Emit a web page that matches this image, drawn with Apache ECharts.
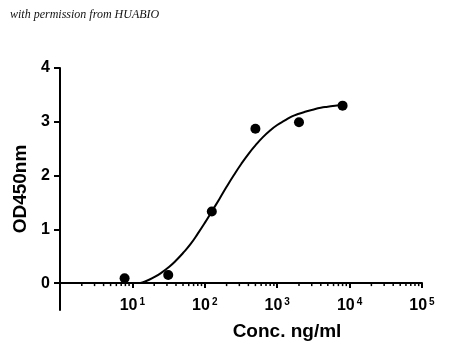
<!DOCTYPE html>
<html>
<head>
<meta charset="utf-8">
<script src="https://cdn.jsdelivr.net/npm/echarts@6/dist/echarts.min.js"></script>
<style>html,body{margin:0;padding:0;background:#fff}#c{width:450px;height:360px}</style>
</head>
<body>
<div id="c"></div>
<script>
// Measured points
var conc = [7.8, 31.25, 125, 500, 2000, 8000];
var od = [0.09, 0.15, 1.33, 2.87, 2.99, 3.30];
// Fitted curve
var curveConc = [12.5, 15, 20, 25, 32, 40, 50, 63, 80, 100, 126, 160, 200, 250, 320, 400, 500, 630, 800, 1000, 1260, 1600, 2000, 2500, 3200, 4000, 5000, 6300, 8000];
var curveOD = [0.0, 0.03, 0.11, 0.19, 0.30, 0.42, 0.56, 0.72, 0.92, 1.12, 1.34, 1.57, 1.79, 2.00, 2.22, 2.40, 2.56, 2.71, 2.84, 2.94, 3.02, 3.10, 3.15, 3.19, 3.23, 3.26, 3.28, 3.30, 3.31];
// Axis ticks
var yTicks = [0, 1, 2, 3, 4];
var decades = [1, 10, 100, 1000, 10000];
var minorMult = [2, 3, 4, 5, 6, 7, 8, 9];
var minorTicks = [];
decades.forEach(function (d) { minorMult.forEach(function (m) { minorTicks.push([d * m, 0]); }); });

var font = 'Liberation Sans';
var chart = echarts.init(document.getElementById('c'), null, {renderer: 'canvas'});
chart.setOption({
  animation: false,
  backgroundColor: '#fff',
  grid: {left: 60, right: 28, top: 68, bottom: 50, containLabel: false},
  xAxis: {
    type: 'log', logBase: 10, min: 1, max: 100000,
    position: 'bottom', offset: -27,
    axisLine: {onZero: false, lineStyle: {color: '#000', width: 2}},
    axisTick: {inside: false, length: 5, lineStyle: {color: '#000', width: 2}},
    splitLine: {show: false},
    axisLabel: {
      margin: 14, color: '#000',
      formatter: function (v) {
        if (v <= 1) return '';
        var e = Math.round(Math.log10(v));
        return '{b|10}{s|' + e + '}';
      },
      rich: {
        b: {fontFamily: font, fontWeight: 'bold', fontSize: 16, color: '#000'},
        s: {fontFamily: font, fontWeight: 'bold', fontSize: 10, color: '#000', verticalAlign: 'bottom', padding: [0, 0, 8, 2]}
      }
    }
  },
  yAxis: {
    type: 'value', min: -0.5, max: 4,
    name: 'OD450nm', nameLocation: 'middle', nameGap: 30, nameRotate: 90,
    nameTextStyle: {fontFamily: font, fontWeight: 'bold', fontSize: 19, color: '#000'},
    axisLine: {show: true, onZero: false, lineStyle: {color: '#000', width: 2}},
    axisTick: {show: true, length: 6, customValues: yTicks, lineStyle: {color: '#000', width: 2}},
    axisLabel: {customValues: yTicks, margin: 10, fontFamily: font, fontWeight: 'bold', fontSize: 16, color: '#000'},
    splitLine: {show: false}
  },
  graphic: [
    {type: 'text', x: 10, y: 15, style: {text: 'with permission from HUABIO', font: 'italic 12px "Liberation Serif"', fill: '#111', textVerticalAlign: 'middle'}},
    {type: 'text', x: 287, y: 332, style: {text: 'Conc. ng/ml', font: 'bold 19px "Liberation Sans"', fill: '#000', textAlign: 'center', textVerticalAlign: 'middle'}}
  ],
  series: [
    {
      type: 'custom', data: minorTicks, clip: false, silent: true,
      renderItem: function (params, api) {
        var p = api.coord([api.value(0), api.value(1)]);
        return {type: 'line', shape: {x1: p[0], y1: p[1], x2: p[0], y2: p[1] + 3}, style: {stroke: '#000', lineWidth: 1.5}};
      }
    },
    {
      type: 'line', data: curveConc.map(function (c, i) { return [c, curveOD[i]]; }),
      smooth: true, showSymbol: false, symbol: 'none',
      lineStyle: {color: '#000', width: 2}
    },
    {
      type: 'scatter', data: conc.map(function (c, i) { return [c, od[i]]; }),
      symbol: 'circle', symbolSize: 10, itemStyle: {color: '#000', opacity: 1}
    }
  ]
});
</script>
</body>
</html>
